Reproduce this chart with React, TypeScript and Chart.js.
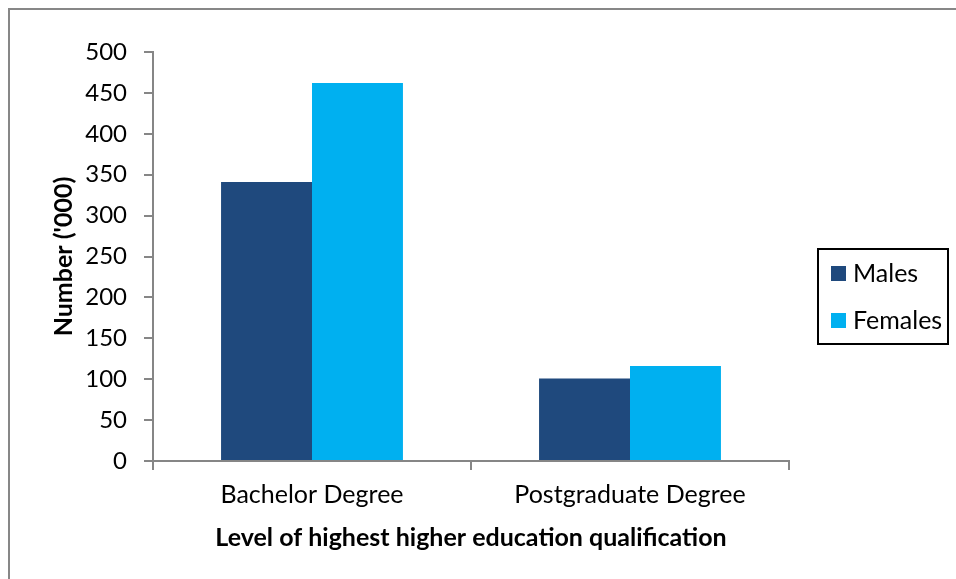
import React, { useEffect, useRef } from "react";
import { Chart, registerables } from "chart.js";

Chart.register(...registerables);

const categories = ["Bachelor Degree", "Postgraduate Degree"];
const males = [341, 101];
const females = [462, 116];
const seriesNames = ["Males", "Females"];
const seriesColors = ["#1F497D", "#00B0F0"];

const FONT = "Lato, 'Open Sans', sans-serif";
const AXIS = "#868686";

const legendBoxPlugin = {
  id: "legendBox",
  afterDraw(chart: any) {
    const ctx = chart.ctx;
    ctx.save();
    ctx.strokeStyle = "#000000";
    ctx.lineWidth = 2;
    ctx.strokeRect(818, 249, 130, 95);
    const rows = [273, 320];
    ctx.font = `25px ${FONT}`;
    ctx.textBaseline = "middle";
    ctx.textAlign = "left";
    seriesNames.forEach((name, i) => {
      ctx.fillStyle = seriesColors[i];
      ctx.fillRect(831, rows[i] - 7, 15, 15);
      ctx.fillStyle = "#000000";
      ctx.fillText(name, 853, rows[i] + 1);
    });
    ctx.restore();
  },
};

export default function App() {
  const ref = useRef<HTMLCanvasElement | null>(null);

  useEffect(() => {
    if (!ref.current) return;
    const chart = new Chart(ref.current, {
      type: "bar",
      data: {
        labels: categories,
        datasets: [
          { label: seriesNames[0], data: males, backgroundColor: seriesColors[0] },
          { label: seriesNames[1], data: females, backgroundColor: seriesColors[1] },
        ],
      },
      options: {
        animation: false,
        responsive: false,
        devicePixelRatio: 1,
        layout: { padding: { left: 0, top: 52, right: 167, bottom: 18 } },
        datasets: { bar: { barPercentage: 1, categoryPercentage: 0.572 } },
        plugins: { legend: { display: false }, tooltip: { enabled: false } },
        scales: {
          x: {
            afterFit: (s: any) => { s.height = 100; },
            grid: { drawOnChartArea: false, drawTicks: true, tickLength: 9, color: AXIS, offset: true, lineWidth: 2 },
            border: { display: true, color: AXIS, width: 2 },
            ticks: { color: "#000000", font: { family: FONT, size: 25 }, padding: 10 },
            title: {
              display: true,
              text: "Level of highest higher education qualification",
              color: "#000000",
              font: { family: FONT, size: 25, weight: "bold" },
              padding: { top: 0, bottom: 8 },
            },
          },
          y: {
            min: 0,
            max: 500,
            afterFit: (s: any) => { s.width = 153; },
            grid: { drawOnChartArea: false, drawTicks: true, tickLength: 9, color: AXIS, lineWidth: 2 },
            border: { display: true, color: AXIS, width: 2 },
            ticks: { stepSize: 50, color: "#000000", font: { family: FONT, size: 24 }, padding: 17 },
            title: {
              display: true,
              text: "Number ('000)",
              color: "#000000",
              font: { family: FONT, size: 25, weight: "bold" },
              padding: { top: 49, bottom: 0 },
            },
          },
        },
      },
      plugins: [legendBoxPlugin],
    } as any);
    return () => chart.destroy();
  }, []);

  return (
    <div style={{ position: "absolute", left: 0, top: 0, width: 956, height: 579, overflow: "hidden", background: "#fff" }}>
      <canvas ref={ref} width={956} height={579} style={{ position: "absolute", left: 0, top: 0 }} />
      <div
        style={{
          position: "absolute",
          left: 8,
          top: 8,
          width: 946,
          height: 569,
          borderTop: "2px solid #878787",
          borderLeft: "2px solid #878787",
          pointerEvents: "none",
        }}
      />
    </div>
  );
}
